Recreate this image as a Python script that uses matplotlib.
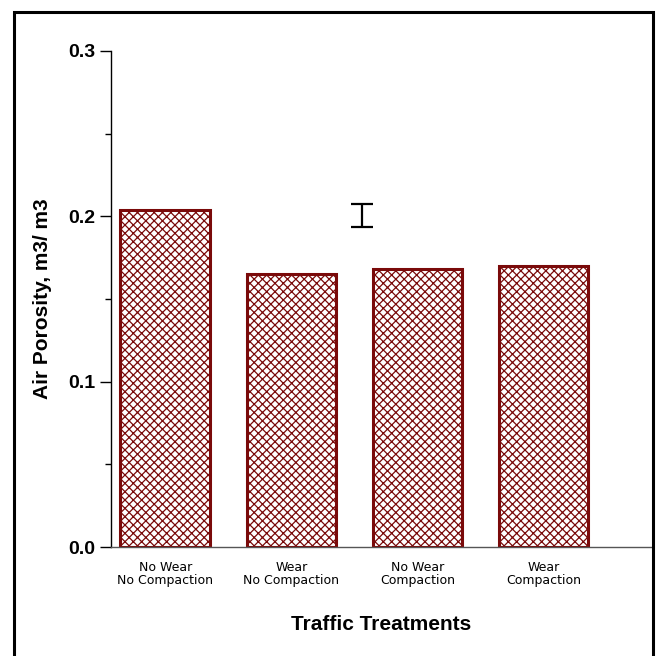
import matplotlib
matplotlib.use("Agg")
import matplotlib.pyplot as plt
from matplotlib.patches import Rectangle
from matplotlib.ticker import MultipleLocator

# data
treatments = ["No Wear\nNo Compaction", "Wear\nNo Compaction",
              "No Wear\nCompaction", "Wear\nCompaction"]
porosity = [0.204, 0.165, 0.168, 0.170]
lsd_x = 2.56
lsd_center = 0.2005
lsd_half = 0.007

plt.rcParams['font.family'] = ['Liberation Sans', 'DejaVu Sans']
plt.rcParams['hatch.linewidth'] = 0.9
plt.rcParams['hatch.color'] = '#7a0a0a'

fig = plt.figure(figsize=(6.57, 6.56), dpi=100)
fig.patches.append(Rectangle((14 / 657, -0.05), 639 / 657, 1 - 12 / 656 + 0.05,
                             transform=fig.transFigure, fill=False,
                             edgecolor='black', linewidth=2.2))

ax = fig.add_axes([111 / 657, 1 - 547 / 656, 541 / 657, 496 / 656])
pos = list(range(1, len(treatments) + 1))
ax.bar(pos, porosity, width=0.71, color='white', edgecolor='#7a0a0a',
       linewidth=2.2, hatch='xxxx')
ax.errorbar([lsd_x], [lsd_center], yerr=[lsd_half], fmt='none',
            ecolor='black', elinewidth=1.6, capsize=8, capthick=1.6)

ax.set_xlim(0.57, 4.86)
ax.set_ylim(0, 0.3)
ax.yaxis.set_major_locator(MultipleLocator(0.1))
ax.yaxis.set_minor_locator(MultipleLocator(0.05))
ax.yaxis.set_major_formatter(matplotlib.ticker.FormatStrFormatter('%.1f'))
ax.tick_params(axis='y', which='major', length=8, width=1, pad=3, labelsize=14)
ax.tick_params(axis='y', which='minor', length=4, width=1)
for lab in ax.get_yticklabels():
    lab.set_fontweight('bold')

ax.set_xticks(pos)
ax.set_xticklabels(treatments, family='DejaVu Sans', fontsize=9, linespacing=1.0)
ax.tick_params(axis='x', length=0, pad=10)

ax.spines['top'].set_visible(False)
ax.spines['right'].set_visible(False)
ax.spines['left'].set_linewidth(1)
ax.spines['bottom'].set_color('#555555')
ax.spines['bottom'].set_linewidth(1)

ax.set_ylabel("Air Porosity, m3/ m3", fontsize=15, fontweight='bold', labelpad=12)
ax.set_xlabel("Traffic Treatments", fontsize=15, fontweight='bold', labelpad=20)

fig.savefig("out.png", dpi=100)
